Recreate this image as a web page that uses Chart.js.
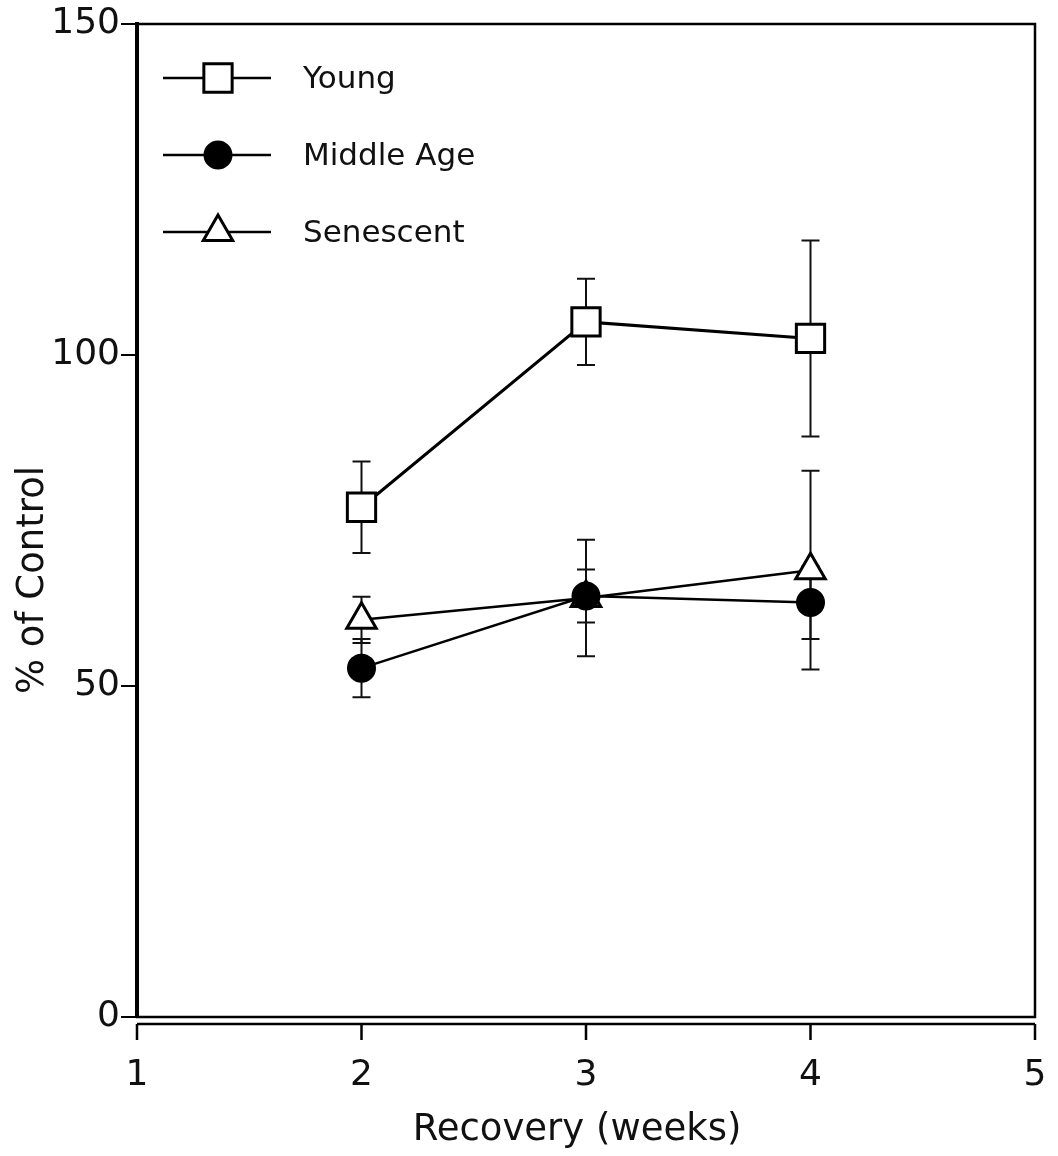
<!DOCTYPE html>
<html>
<head>
<meta charset="utf-8">
<script src="https://cdn.jsdelivr.net/npm/chart.js@4/dist/chart.umd.min.js"></script>
<style>
  html, body { margin: 0; padding: 0; background: #fff; overflow: hidden; }
  canvas { display: block; }
</style>
</head>
<body>
<canvas id="recoveryChart" width="1058" height="1156" style="width:1058px;height:1156px"></canvas>
<script>
// values (% of control, mean and error bar half-length)
const weeks = [2, 3, 4];
const youngMean = [77, 105, 102.5];
const youngErr = [6.9, 6.5, 14.8];
const middleMean = [52.7, 63.6, 62.6];
const middleErr = [4.4, 4, 5.5];
const senescentMean = [60, 63.3, 67.5];
const senescentErr = [3.5, 8.8, 15];
const xTicks = [1, 2, 3, 4, 5];
const yTicks = [0, 50, 100, 150];

const FONT = '"DejaVu Sans", sans-serif';

function pts(means) {
    return weeks.map(function(w, i) { return { x: w, y: means[i] }; });
}

const series = [
    { label: 'Middle Age', data: pts(middleMean), err: middleErr, style: 'circle', radius: 13, fill: '#000', width: 2.5, order: 0 },
    { label: 'Young', data: pts(youngMean), err: youngErr, style: 'rect', radius: 20, fill: '#fff', width: 3, order: 1 },
    { label: 'Senescent', data: pts(senescentMean), err: senescentErr, style: 'triangle', radius: 17, fill: '#fff', width: 2.5, order: 2 }
];
const legendOrder = ['Young', 'Middle Age', 'Senescent'];

// error bars under the markers
const errorBars = {
    id: 'errorBars',
    beforeDatasetsDraw(chart) {
        const ctx = chart.ctx;
        const xs = chart.scales.x, ys = chart.scales.y;
        ctx.save();
        ctx.strokeStyle = '#111';
        ctx.lineWidth = 2;
        chart.data.datasets.forEach(function(ds) {
            ds.data.forEach(function(p, i) {
                const px = xs.getPixelForValue(p.x);
                const top = ys.getPixelForValue(p.y + ds.errors[i]);
                const bot = ys.getPixelForValue(p.y - ds.errors[i]);
                ctx.beginPath();
                ctx.moveTo(px, top); ctx.lineTo(px, bot);
                ctx.moveTo(px - 9, top); ctx.lineTo(px + 9, top);
                ctx.moveTo(px - 9, bot); ctx.lineTo(px + 9, bot);
                ctx.stroke();
            });
        });
        ctx.restore();
    }
};

// frame, offset x axis, axis titles and the in-plot legend
const decorations = {
    id: 'decorations',
    afterDraw(chart) {
        const ctx = chart.ctx;
        const a = chart.chartArea;
        const xs = chart.scales.x;
        ctx.save();
        ctx.strokeStyle = '#000';
        ctx.lineWidth = 2.5;
        ctx.strokeRect(a.left, a.top, a.right - a.left, a.bottom - a.top);

        // x axis sits a little below the frame
        const axisY = a.bottom + 7;
        ctx.beginPath();
        ctx.moveTo(a.left, axisY); ctx.lineTo(a.right, axisY);
        xTicks.forEach(function(v) {
            const px = xs.getPixelForValue(v);
            ctx.moveTo(px, axisY); ctx.lineTo(px, axisY + 16);
        });
        ctx.stroke();

        ctx.fillStyle = '#111';
        ctx.font = '37px ' + FONT;
        ctx.textAlign = 'center';
        ctx.textBaseline = 'middle';
        ctx.fillText('Recovery (weeks)', 577, 1130);
        ctx.save();
        ctx.translate(33, 580);
        ctx.rotate(-Math.PI / 2);
        ctx.fillText('% of Control', 0, 0);
        ctx.restore();

        // legend
        ctx.font = '31px ' + FONT;
        ctx.textAlign = 'left';
        legendOrder.forEach(function(name, k) {
            const ds = chart.data.datasets.find(function(d) { return d.label === name; });
            const y = 78 + k * 77;
            ctx.beginPath();
            ctx.lineWidth = 2.5;
            ctx.moveTo(163, y); ctx.lineTo(271, y);
            ctx.stroke();
            ctx.fillStyle = ds.pointBackgroundColor;
            ctx.strokeStyle = '#000';
            ctx.lineWidth = 3;
            Chart.helpers.drawPoint(ctx, { pointStyle: ds.pointStyle, radius: ds.pointRadius, borderWidth: 3 }, 218, y);
            ctx.fillStyle = '#111';
            ctx.fillText(name, 303, y + 2);
        });
        ctx.restore();
    }
};

function noEdgePadding(scale) {
    scale.paddingLeft = 0;
    scale.paddingRight = 0;
    scale.paddingTop = 0;
    scale.paddingBottom = 0;
}

const ctx = document.getElementById('recoveryChart').getContext('2d');
const recoveryChart = new Chart(ctx, {
    type: 'line',
    data: {
        datasets: series.map(function(s) {
            return {
                label: s.label,
                data: s.data,
                errors: s.err,
                order: s.order,
                borderColor: '#000',
                borderWidth: s.width,
                tension: 0,
                fill: false,
                pointStyle: s.style,
                pointRadius: s.radius,
                pointHoverRadius: s.radius,
                pointBackgroundColor: s.fill,
                pointBorderColor: '#000',
                pointBorderWidth: 3
            };
        })
    },
    options: {
        responsive: false,
        animation: false,
        devicePixelRatio: 1,
        layout: { padding: { top: 24, right: 19, left: 0, bottom: 0 } },
        plugins: { legend: { display: false }, tooltip: { enabled: false } },
        scales: {
            x: {
                type: 'linear',
                min: 1,
                max: 5,
                afterBuildTicks: function(scale) {
                    scale.ticks = xTicks.map(function(v) { return { value: v }; });
                },
                afterFit: function(scale) { scale.height = 139; noEdgePadding(scale); },
                grid: { color: 'transparent', drawOnChartArea: false, tickLength: 37 },
                border: { display: false },
                ticks: { color: '#111', font: { family: FONT, size: 36 }, padding: 0, maxRotation: 0 }
            },
            y: {
                min: 0,
                max: 150,
                afterBuildTicks: function(scale) {
                    scale.ticks = yTicks.map(function(v) { return { value: v }; });
                },
                afterFit: function(scale) { scale.width = 137; noEdgePadding(scale); },
                grid: { drawOnChartArea: false, color: '#000', lineWidth: 2, tickLength: 16 },
                border: { display: true, color: '#000', width: 4 },
                ticks: { color: '#111', font: { family: FONT, size: 36 }, padding: 1 }
            }
        }
    },
    plugins: [errorBars, decorations]
});
</script>
</body>
</html>
